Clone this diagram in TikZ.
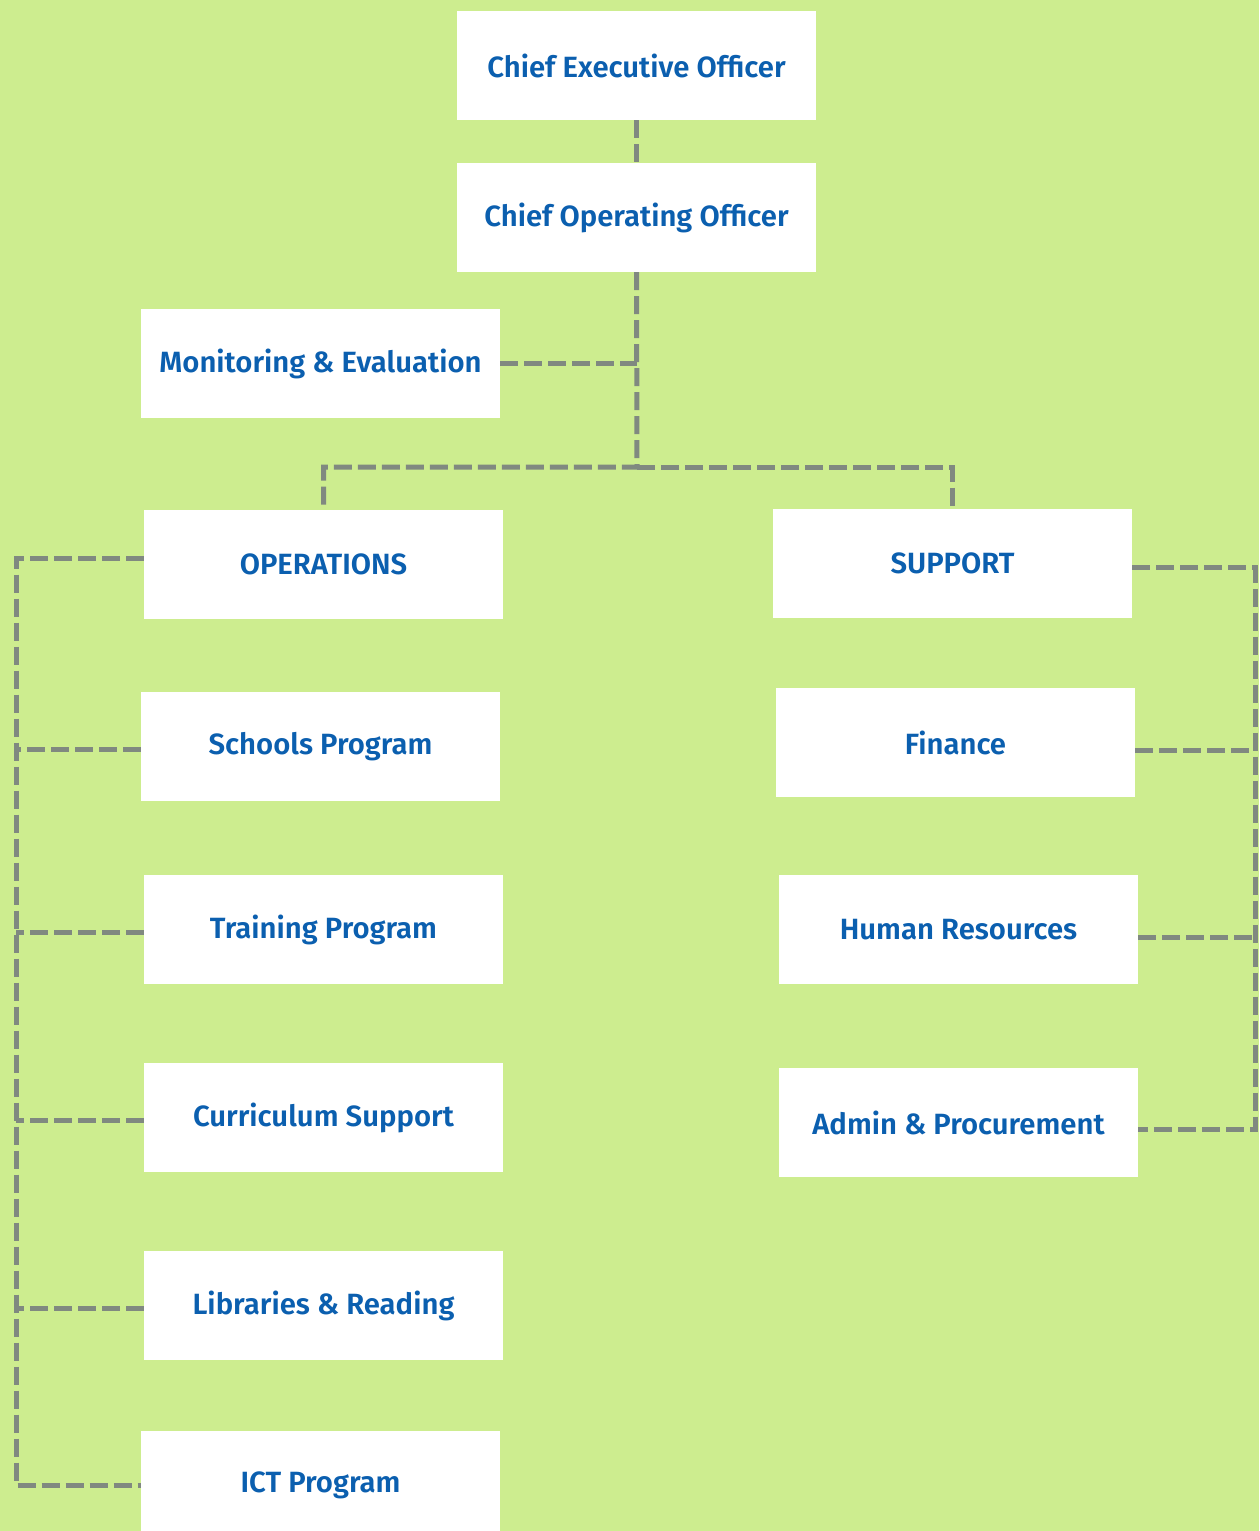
\documentclass[tikz,border=0pt]{standalone}
\usepackage{fontspec}
\usepackage{tikz}
\usetikzlibrary{positioning}
\usetikzlibrary{calc}
\newfontfamily\orgfont{Fira Sans SemiBold}
\definecolor[named]{limebg}{RGB}{205,237,143}
\definecolor[named]{orgblue}{RGB}{11,95,175}
\definecolor[named]{linkgray}{RGB}{128,137,128}

\begin{document}
\begin{tikzpicture}
    [x=1pt,y=-1pt,
     unit/.style={rectangle,fill=white,minimum width=359pt,minimum height=109pt,inner sep=0pt,text=orgblue,font=\orgfont\fontsize{29.3}{34}\selectfont},
     link/.style={draw=linkgray,line width=5pt,dash pattern=on 18pt off 6pt}]
    \fill[limebg] (0,0) rectangle (1259,1531);
    \useasboundingbox (0,0) rectangle (1259,1531);
    % top of the chart
    \node [unit] (CEO) at (636.5,65.5) {Chief Executive Officer};
    \node [unit] (COO) at (636.5,217.5) {Chief Operating Officer};
    \node [unit] (Monitor) at (320.5,363.5) {Monitoring \& Evaluation};
    \node [unit] (Ops) at (323.5,564.5) {OPERATIONS};
    \node [unit] (Sup) at (952.5,563.5) {SUPPORT};
    % operations side
    \node [unit] (Schools) at (320.5,746.5) {Schools Program};
    \node [unit] (Training) at (323.5,929.5) {Training Program};
    \node [unit] (Curric) at (323.5,1117.5) {Curriculum Support};
    \node [unit] (Library) at (323.5,1305.5) {Libraries \& Reading};
    \node [unit] (ICT) at (320.5,1485) {ICT Program};
    % support side
    \node [unit] (Finance) at (955.5,742.5) {Finance};
    \node [unit] (HR) at (958.5,929.5) {Human Resources};
    \node [unit] (Admin) at (958.5,1122.5) {Admin \& Procurement};
    \coordinate (Hub) at (637,467);
    \coordinate (LeftBus) at (16,558);
    \coordinate (RightBus) at (1255,567);
    \draw[link] (CEO) -- (COO);
    \draw[link] (COO.south) -- (Hub) -| (Ops.north);
    \draw[link] (Hub) -| (Sup.north);
    \draw[link] (Monitor.east) -- (Monitor.east -| COO.south);
    \draw[link] ([yshift=6pt]Ops.west) -- ([yshift=6pt]Ops.west -| LeftBus) -- (LeftBus |- ICT.west) -- (ICT.west);
    \foreach \unitname in {Schools,Training,Curric,Library}
        \draw[link] ([yshift=-3pt]\unitname.west) -- ([yshift=-3pt]\unitname.west -| LeftBus);
    \draw[link] ([yshift=-4pt]Sup.east) -- ([yshift=-4pt]Sup.east -| RightBus) -- ([yshift=-7pt]RightBus |- Admin.east) -- ([yshift=-7pt]Admin.east);
    \foreach \unitname in {Finance,HR}
        \draw[link] ([yshift=-8pt]\unitname.east) -- ([yshift=-8pt]\unitname.east -| RightBus);
\end{tikzpicture}
\end{document}
